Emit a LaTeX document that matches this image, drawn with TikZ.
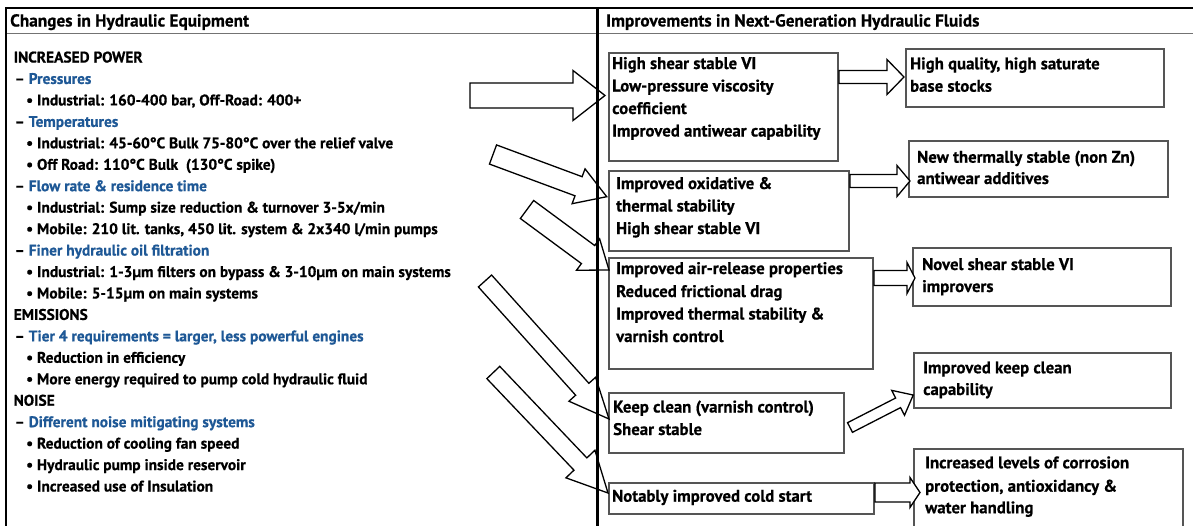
\documentclass[tikz,border=0pt]{standalone}
\usepackage{fontspec}
\setmainfont{PT Sans}[BoldFeatures={FakeBold=0.6}]
\usetikzlibrary{calc}
\definecolor{hblue}{RGB}{30,88,150}
\definecolor{boxgray}{RGB}{85,85,85}
\newcommand\blockarrow[5]{%
  \pgfpointdiff{\pgfpointanchor{#1}{center}}{\pgfpointanchor{#2}{center}}%
  \pgfgetlastxy{\baDX}{\baDY}%
  \pgfmathsetmacro\baAng{atan2(\baDY,\baDX)}%
  \pgfmathsetmacro\baLen{veclen(\baDX,\baDY)}%
  \pgfmathsetmacro\baNeck{\baLen-#5}%
  \draw[blockarr, shift={(#1)}, rotate=\baAng]
    (0pt,#3pt) -- (\baNeck pt,#3pt) -- (\baNeck pt,#4pt) -- (\baLen pt,0pt)
    -- (\baNeck pt,-#4pt) -- (\baNeck pt,-#3pt) -- (0pt,-#3pt) -- cycle;
}
\begin{document}
\begin{tikzpicture}[x=1pt,y=-1pt,
  txt/.style={inner sep=0pt, anchor=base west, font=\fontsize{15.4}{17}\selectfont\bfseries},
  btxt/.style={txt, font=\fontsize{16.8}{18}\selectfont\bfseries},
  htxt/.style={txt, font=\fontsize{17.25}{19}\selectfont\bfseries},
  box/.style={draw=boxgray, line width=2pt, fill=white, rectangle, inner sep=0pt, anchor=north west},
  blockarr/.style={draw=black, line width=1.3pt, fill=white, line join=miter}]
\clip (0,0) rectangle (1196,525);
\fill[white] (0,0) rectangle (1196,525);
% frame
\draw[line width=2.2pt] (5,8) -- (1193,8);
\draw[line width=1.5pt, black!55] (5,33.5) -- (1193,33.5);
\draw[line width=2pt] (6,7) -- (6,526);
% boxes
\node[box, minimum width=229pt, minimum height=108pt] (A) at (608,52) {};
\node[box, minimum width=240pt, minimum height=80pt] (B) at (608,170) {};
\node[box, minimum width=264pt, minimum height=111pt] (C) at (608,257) {};
\node[box, minimum width=235pt, minimum height=60pt] (D) at (608,392) {};
\node[box, minimum width=265pt, minimum height=31pt] (E) at (608,482) {};
\node[box, minimum width=258pt, minimum height=58pt] (F) at (905,48) {};
\node[box, minimum width=259pt, minimum height=56pt] (G) at (908,140) {};
\node[box, minimum width=258pt, minimum height=58pt] (H) at (912,247) {};
\node[box, minimum width=257pt, minimum height=55pt] (I) at (913,352) {};
\node[box, minimum width=269pt, minimum height=100pt] (J) at (913,448) {};
% arrow end points
\coordinate (s1) at (470,95.5);   \coordinate (t1) at (605,95.5);
\coordinate (s2) at (493,154.5);  \coordinate (t2) at (606.7,196.7);
\coordinate (s3) at (527,209.5);  \coordinate (t3) at (609,270);
\coordinate (s4) at (485,281);    \coordinate (t4) at (609,419);
\coordinate (s5) at (493.3,372.5);\coordinate (t5) at (608,493);
\coordinate (s6) at (A.east |- 0,77);  \coordinate (t6) at (904,77);
\coordinate (s7) at (B.east |- 0,181); \coordinate (t7) at (910,181);
\coordinate (s8) at (C.east |- 0,278); \coordinate (t8) at (915,278);
\coordinate (s9) at (850,427.5);  \coordinate (t9) at (913.3,395);
\coordinate (s10) at (E.east |- 0,492.5); \coordinate (t10) at (920,492.5);
\blockarrow{s1}{t1}{12.5}{25}{32}
\blockarrow{s2}{t2}{10.2}{18.6}{30}
\blockarrow{s3}{t3}{11.2}{19.5}{26}
\blockarrow{s4}{t4}{8.9}{17.9}{40}
\blockarrow{s5}{t5}{8.9}{20}{40}
\blockarrow{s6}{t6}{6.5}{17.5}{17}
\blockarrow{s7}{t7}{6.5}{15.5}{13}
\blockarrow{s8}{t8}{7.5}{15.5}{8}
\blockarrow{s9}{t9}{5.4}{14}{17}
\blockarrow{s10}{t10}{9.5}{15}{10}
% divider
\draw[line width=3pt] (597,7) -- (597,526);
% headers
\node[htxt] (h1) at (10,26.5) {Changes in Hydraulic Equipment};
\node[htxt] (h2) at (606,26.5) {Improvements in Next-Generation Hydraulic Fluids};
% left column
\node[txt] (l0) at (13.5,62.5) {INCREASED POWER};
\node[txt] (l1) at (14.5,83.95) {– \textcolor{hblue}{Pressures}};
\node[txt] (l2) at (26,105.4) {• Industrial: 160-400 bar, Off-Road: 400+};
\node[txt] (l3) at (14.5,126.85) {– \textcolor{hblue}{Temperatures}};
\node[txt] (l4) at (26,148.3) {• Industrial: 45-60°C Bulk 75-80°C over the relief valve};
\node[txt] (l5) at (26,169.75) {• Off Road: 110°C Bulk\ \ (130°C spike)};
\node[txt] (l6) at (14.5,191.2) {– \textcolor{hblue}{Flow rate \& residence time}};
\node[txt] (l7) at (26,212.65) {• Industrial: Sump size reduction \& turnover 3-5x/min};
\node[txt] (l8) at (26,234.1) {• Mobile: 210 lit. tanks, 450 lit. system \& 2x340 l/min pumps};
\node[txt] (l9) at (14.5,255.55) {– \textcolor{hblue}{Finer hydraulic oil filtration}};
\node[txt] (l10) at (26,277) {• Industrial: 1-3µm filters on bypass \& 3-10µm on main systems};
\node[txt] (l11) at (26,298.45) {• Mobile: 5-15µm on main systems};
\node[txt] (l12) at (13.5,319.9) {EMISSIONS};
\node[txt] (l13) at (14.5,341.35) {– \textcolor{hblue}{Tier 4 requirements = larger, less powerful engines}};
\node[txt] (l14) at (26,362.8) {• Reduction in efficiency};
\node[txt] (l15) at (26,384.25) {• More energy required to pump cold hydraulic fluid};
\node[txt] (l16) at (13.5,405.7) {NOISE};
\node[txt] (l17) at (14.5,427.15) {– \textcolor{hblue}{Different noise mitigating systems}};
\node[txt] (l18) at (26,448.6) {• Reduction of cooling fan speed};
\node[txt] (l19) at (26,470.05) {• Hydraulic pump inside reservoir};
\node[txt] (l20) at (26,491.5) {• Increased use of Insulation};
% box texts
\node[btxt] (a1) at (612,69) {High shear stable VI};
\node[btxt] (a2) at (612,91.5) {Low-pressure viscosity};
\node[btxt] (a3) at (612,114) {coefficient};
\node[btxt] (a4) at (612,136.5) {Improved antiwear capability};
\node[btxt] (b1) at (616,189) {Improved oxidative \&};
\node[btxt] (b2) at (616,211.5) {thermal stability};
\node[btxt] (b3) at (616,234) {High shear stable VI};
\node[btxt] (c1) at (616,274) {Improved air-release properties};
\node[btxt] (c2) at (616,297) {Reduced frictional drag};
\node[btxt] (c3) at (616,319.5) {Improved thermal stability \&};
\node[btxt] (c4) at (616,342) {varnish control};
\node[btxt] (d1) at (613,412.5) {Keep clean (varnish control)};
\node[btxt] (d2) at (613,435) {Shear stable};
\node[btxt] (e1) at (612,501.7) {Notably improved cold start};
\node[btxt] (f1) at (910,69.3) {High quality, high saturate};
\node[btxt] (f2) at (910,91.7) {base stocks};
\node[btxt] (g1) at (917,162.7) {New thermally stable (non Zn)};
\node[btxt] (g2) at (917,184) {antiwear additives};
\node[btxt] (hh1) at (922,270) {Novel shear stable VI};
\node[btxt] (hh2) at (922,292) {improvers};
\node[btxt] (i1) at (923,373.3) {Improved keep clean};
\node[btxt] (i2) at (923,395) {capability};
\node[btxt] (j1) at (925,468.3) {Increased levels of corrosion};
\node[btxt] (j2) at (925,491.7) {protection, antioxidancy \&};
\node[btxt] (j3) at (925,513.3) {water handling};
\end{tikzpicture}
\end{document}
